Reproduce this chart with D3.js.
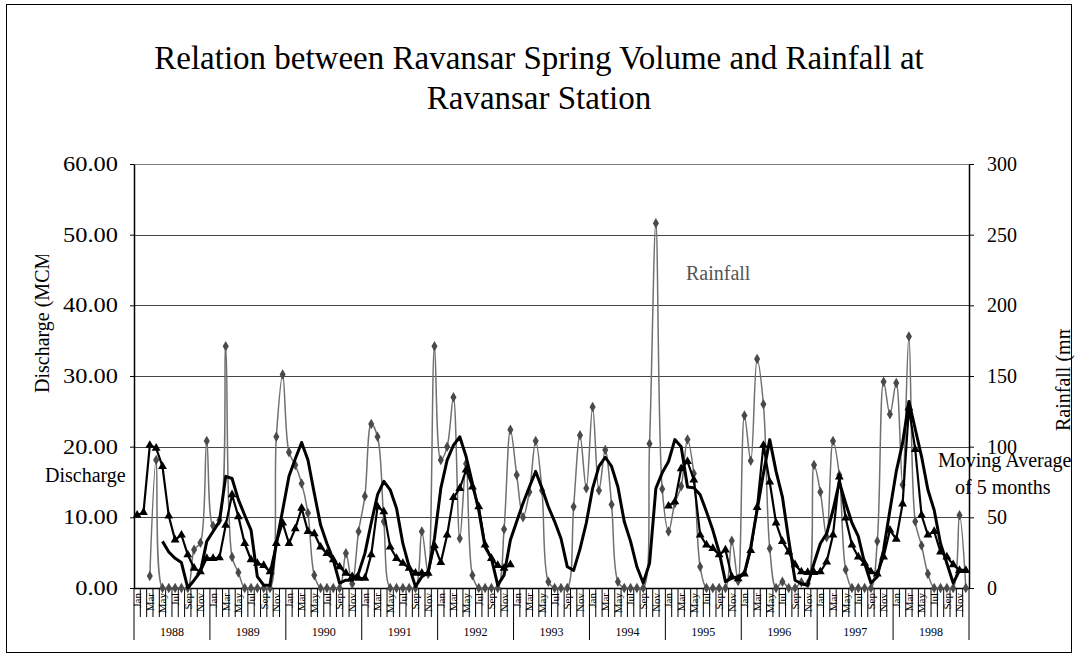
<!DOCTYPE html>
<html><head><meta charset="utf-8">
<script src="https://cdn.jsdelivr.net/npm/d3@7"></script>
<style>
body{margin:0;background:#fff}
svg{display:block}
text{font-family:"Liberation Serif","Times New Roman",serif}
</style>
</head><body>
<svg id="chart" width="1077" height="660"></svg>
<script>
const years = [1988,1989,1990,1991,1992,1993,1994,1995,1996,1997,1998];
const months = ["Jan","Feb","Mar","Apr","May","Jun","Jul","Aug","Sep","Oct","Nov","Dec"];

// Monthly rainfall (mm), Jan 1988 .. Dec 1998
const rainfall = [
  null,null,8.5,90.5,0,0,0,0,0,27,32,104,
  44,48,171,22,11,0,0,0,0,0,107,151,
  96,87,74,53,9,0,0,0,0,24.5,3,40,
  65,116,107,47,0,0,0,0,0,40,10,171,
  90.5,100,135,35,88,9,0,0,0,0,41.5,112,
  80,50,68,104,69,4.5,0,0,0,57.5,108,70.5,
  128,69,97.6,59,4.5,0,0,0,0,102,258,70,
  40,60,72,105,81,15,0,0,0,0,33.5,5,
  122,90,162,130,28,0,4.5,0,0,4,3,87,
  68,36,104,80,13,0,0,0,0,33,146,123,
  145,73,178,47,30,10,0,0,0,0,51.5,0
];
// Monthly spring discharge (MCM)
const discharge = [
  10.3,10.7,20.2,19.8,17.2,10.2,6.8,7.5,4.7,2.8,2.3,4.2,
  4.2,4.3,8.9,13.2,10.1,6.3,4.0,3.5,3.2,2.3,6.3,9.2,
  6.3,8.4,11.3,8.0,7.7,5.8,4.9,4.0,3.0,2.1,1.6,1.4,
  1.4,4.7,11.5,10.8,5.8,4.2,3.5,2.8,2.1,2.1,2.1,6.0,
  3.6,7.5,12.8,14.1,16.7,14.3,11.5,6.1,4.2,3.2,2.8,3.3,
  null,null,null,null,null,null,null,null,null,null,null,null,
  null,null,null,null,null,null,null,null,null,null,null,null,
  11.6,12.2,16.9,17.9,15.3,7.5,6.1,5.6,4.7,5.4,1.6,1.3,
  2.0,5.3,11.4,20.2,15.0,9.2,6.6,5.1,3.3,2.3,2.2,2.2,
  2.3,3.7,7.5,15.7,9.9,6.1,4.4,3.5,2.3,2.0,4.4,8.2,
  6.9,11.9,25.5,19.6,10.3,7.5,8.0,5.1,4.4,3.3,2.5,2.5
];
// Moving average of 5 months
const movingAverage = [
  null,null,null,null,6.6,5.1,4.2,3.6,0,1.1,2.3,6.6,
  8.0,9.4,15.8,15.5,12.5,10.3,8.2,1.6,0.4,0.4,6.3,11.0,
  15.8,18.3,20.6,18.1,13.4,8.9,6.3,4.0,0.7,1.1,1.1,2.1,
  4.9,9.2,13.2,15.1,13.9,11.3,6.3,3.0,0.2,1.6,2.2,7.0,
  14.1,18.1,20.2,21.4,18.6,14.8,11.0,5.8,4.2,0.4,1.8,6.8,
  9.4,12.0,14.3,16.5,14.1,11.5,9.4,7.0,3.0,2.5,5.5,9.2,
  14.1,17.2,18.5,17.2,14.3,9.4,6.6,3.0,0.7,3.5,14.1,16.3,
  17.9,21.0,20.0,14.3,14.2,13.2,10.8,8.2,5.1,0.9,1.4,1.6,
  2.1,5.8,11.0,16.2,21.0,16.5,12.9,6.8,1.1,0.6,0.4,3.5,
  6.3,7.7,11.0,15.0,12.0,9.2,7.3,3.5,0.7,1.6,5.4,11.0,
  16.5,20.5,26.4,22.5,18.6,13.9,11.0,6.3,3.5,0.7,2.5,2.5
];
const dischargeTicks = [0,10,20,30,40,50,60];
const rainfallTicks = [0,50,100,150,200,250,300];

const svg = d3.select("#chart");
const W = 1077, H = 660;
const P = {left:134, right:969, top:164, bottom:588};

const categories = years.flatMap(y => months.map(m => y + "-" + m));
const x = d3.scaleBand().domain(categories).range([P.left, P.right]).padding(0);
const xc = c => x(c) + x.bandwidth() / 2;
const yL = d3.scaleLinear().domain([0, 60]).range([P.bottom, P.top]);
const yR = d3.scaleLinear().domain([0, 300]).range([P.bottom, P.top]);

// outer border
svg.append("rect").attr("x", 6.5).attr("y", 4.5).attr("width", W - 12).attr("height", H - 12)
  .attr("fill", "#fff").attr("stroke", "#000").attr("stroke-width", 1);

// title
const title = svg.append("text").attr("text-anchor", "middle").attr("font-size", 33).attr("fill", "#000");
title.append("tspan").attr("x", 539).attr("y", 69).text("Relation between Ravansar Spring Volume and Rainfall at");
title.append("tspan").attr("x", 539).attr("y", 109).text("Ravansar Station");

// gridlines
svg.append("g").selectAll("line").data(dischargeTicks.filter(d => d > 0)).join("line")
  .attr("x1", P.left).attr("x2", P.right)
  .attr("y1", d => Math.round(yL(d)) + 0.5).attr("y2", d => Math.round(yL(d)) + 0.5)
  .attr("stroke", d => d === 60 ? "#808080" : "#444").attr("stroke-width", 1);

// left axis
const axL = svg.append("g").attr("transform", `translate(${P.left},0)`)
  .call(d3.axisLeft(yL).tickValues(dischargeTicks).tickFormat(d3.format(".2f")).tickSizeInner(4).tickSizeOuter(0).tickPadding(12));
axL.select(".domain").attr("stroke", "#000").attr("stroke-width", 1.5);
axL.selectAll("text").attr("font-size", 20).attr("font-family", "Liberation Serif").attr("fill", "#000")
  .each(function() {
    const w = this.getComputedTextLength();
    d3.select(this).attr("textLength", (w * 1.22).toFixed(1)).attr("lengthAdjust", "spacingAndGlyphs");
  });

// right axis
const axR = svg.append("g").attr("transform", `translate(${P.right},0)`)
  .call(d3.axisRight(yR).tickValues(rainfallTicks).tickFormat(d3.format("d")).tickSizeInner(5).tickSizeOuter(0).tickPadding(13));
axR.select(".domain").attr("stroke", "#000").attr("stroke-width", 1.5);
axR.selectAll("text").attr("font-size", 20).attr("font-family", "Liberation Serif").attr("fill", "#000");

// x axis (two-level categories)
const xg = svg.append("g");
xg.append("line").attr("x1", P.left).attr("x2", P.right).attr("y1", P.bottom + 0.5).attr("y2", P.bottom + 0.5)
  .attr("stroke", "#000").attr("stroke-width", 1.5);
const boundaries = categories.map(c => x(c)).concat([P.right]);
xg.selectAll("line.mt").data(boundaries).join("line").attr("class", "mt")
  .attr("x1", d => d).attr("x2", d => d)
  .attr("y1", P.bottom).attr("y2", (d, i) => i % 12 === 0 ? 640 : 617)
  .attr("stroke", "#000").attr("stroke-width", 1);
const axB = xg.append("g").attr("transform", `translate(0,${P.bottom})`)
  .call(d3.axisBottom(x).tickValues(categories.filter((d, i) => i % 2 === 0))
    .tickFormat(d => d.split("-")[1]).tickSize(0));
axB.select(".domain").remove();
axB.selectAll("text").attr("font-size", 11).attr("font-family", "Liberation Serif").attr("fill", "#000")
  .attr("transform", "rotate(-90)").attr("text-anchor", "end").attr("dy", "0.35em").attr("x", -5).attr("y", 0);
xg.selectAll("text.yr").data(years).join("text").attr("class", "yr")
  .attr("x", y => (x(y + "-Jan") + x(y + "-Dec") + x.bandwidth()) / 2).attr("y", 636)
  .attr("text-anchor", "middle").attr("font-size", 12).text(y => y);

// series
const rows = categories.map((c, i) => ({c, r: rainfall[i], d: discharge[i], m: movingAverage[i]}));
const gS = svg.append("g");
gS.append("path").datum(rows).attr("fill", "none").attr("stroke", "#707070").attr("stroke-width", 1.5)
  .attr("d", d3.line().defined(r => r.r != null).x(r => xc(r.c)).y(r => yR(r.r)).curve(d3.curveCatmullRom.alpha(0.5)));
gS.selectAll("path.rm").data(rows.filter(r => r.r != null)).join("path").attr("class", "rm")
  .attr("transform", r => `translate(${xc(r.c)},${yR(r.r)})`)
  .attr("d", d3.symbol(d3.symbolDiamond, 32)).attr("fill", "#4a4a4a");

gS.append("path").datum(rows).attr("fill", "none").attr("stroke", "#000").attr("stroke-width", 2.2)
  .attr("stroke-linejoin", "round")
  .attr("d", d3.line().defined(r => r.d != null).x(r => xc(r.c)).y(r => yL(r.d)));
gS.selectAll("path.dm").data(rows.filter(r => r.d != null)).join("path").attr("class", "dm")
  .attr("transform", r => `translate(${xc(r.c)},${yL(r.d)})`)
  .attr("d", d3.symbol(d3.symbolTriangle, 34)).attr("fill", "#000");

gS.append("path").datum(rows).attr("fill", "none").attr("stroke", "#000").attr("stroke-width", 3)
  .attr("stroke-linejoin", "round")
  .attr("d", d3.line().defined(r => r.m != null).x(r => xc(r.c)).y(r => yL(r.m)));

// axis titles (clipped like the original)
const defs = svg.append("defs");
defs.append("clipPath").attr("id", "clipL").append("rect").attr("x", 0).attr("y", 255).attr("width", 90).attr("height", 200);
defs.append("clipPath").attr("id", "clipR").append("rect").attr("x", 1040).attr("y", 329).attr("width", 37).attr("height", 200);
svg.append("g").attr("clip-path", "url(#clipL)")
  .append("text").attr("transform", "translate(49,393) rotate(-90)")
  .attr("font-size", 20).attr("fill", "#000").text("Discharge (MCM)");
svg.append("g").attr("clip-path", "url(#clipR)")
  .append("text").attr("transform", "translate(1070,431) rotate(-90)")
  .attr("font-size", 20).attr("fill", "#000").text("Rainfall (mm)");

// series annotations
svg.append("text").attr("x", 686).attr("y", 280).attr("font-size", 20).attr("fill", "#555").text("Rainfall");
svg.append("text").attr("x", 45).attr("y", 482).attr("font-size", 20).attr("fill", "#000").text("Discharge");
svg.append("text").attr("x", 938).attr("y", 467).attr("font-size", 20).attr("fill", "#000").text("Moving Average");
svg.append("text").attr("x", 955).attr("y", 494).attr("font-size", 20).attr("fill", "#000").text("of 5 months");
</script>
</body></html>
